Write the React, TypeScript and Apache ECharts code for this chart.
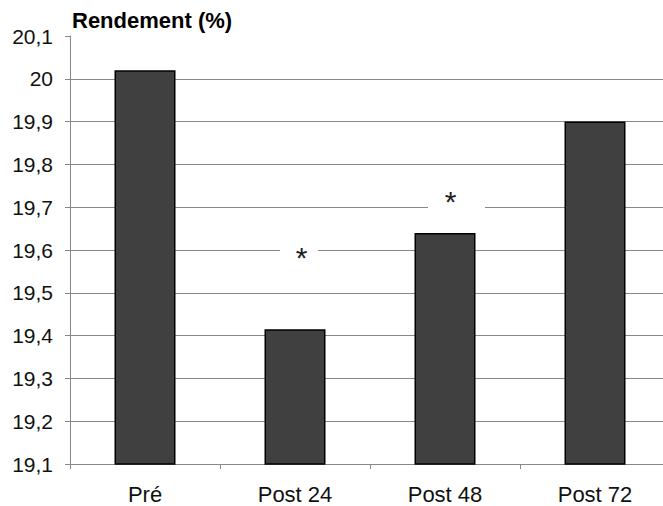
import React, { useEffect, useRef } from "react";
import * as echarts from "echarts";

const categories = ["Pré", "Post 24", "Post 48", "Post 72"];
const values = [20.02, 19.415, 19.64, 19.9];
const yTickLabels = ["19,1", "19,2", "19,3", "19,4", "19,5", "19,6", "19,7", "19,8", "19,9", "20", "20,1"];
const yMin = 19.1;
const yMax = 20.1;
const yStep = 0.1;
const title = "Rendement (%)";
const asterisks = [
  { category: "Post 24", value: 19.6 },
  { category: "Post 48", value: 19.7 },
];

export default function App() {
  const ref = useRef<HTMLDivElement>(null);
  useEffect(() => {
    if (!ref.current) return;
    const chart = echarts.init(ref.current, null, { renderer: "svg" });
    const font = "'Liberation Sans', Arial, sans-serif";
    chart.setOption({
      animation: false,
      backgroundColor: "#ffffff",
      title: {
        text: title,
        left: 72,
        top: 9,
        padding: 0,
        textStyle: { fontFamily: font, fontWeight: "bold", fontSize: 22, color: "#000" },
      },
      grid: { left: 70, right: 0, top: 36, bottom: 42, containLabel: false },
      xAxis: {
        type: "category",
        data: categories,
        axisLine: { show: true, lineStyle: { color: "#888", width: 1 } },
        axisTick: { show: true, inside: false, length: 5, lineStyle: { color: "#888" } },
        axisLabel: { fontFamily: font, fontSize: 22, color: "#111", margin: 19 },
        splitLine: { show: false },
      },
      yAxis: {
        type: "value",
        min: yMin,
        max: yMax,
        interval: yStep,
        axisLine: { show: true, lineStyle: { color: "#888", width: 1 } },
        axisTick: { show: true, length: 5, lineStyle: { color: "#888" } },
        axisLabel: {
          fontFamily: font,
          fontSize: 21,
          color: "#111",
          margin: 17,
          formatter: (v: number) => {
            const idx = Math.round((v - yMin) / yStep);
            return yTickLabels[idx] ?? "";
          },
        },
        splitLine: {
          show: true,
          showMaxLine: false,
          lineStyle: { color: "#888", width: 1 },
        },
      },
      series: [
        {
          type: "bar",
          data: values,
          barWidth: 61,
          itemStyle: { color: "#404040", borderColor: "#000", borderWidth: 1.5 },
          markPoint: {
            silent: true,
            data: [
              {
                coord: [asterisks[0].category, asterisks[0].value],
                symbol: "rect",
                symbolSize: [38, 12],
                symbolOffset: [4, 0],
                itemStyle: { color: "#fff" },
                label: {
                  show: true,
                  formatter: "*",
                  position: "inside",
                  offset: [2.5, 7],
                  fontFamily: font,
                  fontSize: 30,
                  color: "#222",
                },
              },
              {
                coord: [asterisks[1].category, asterisks[1].value],
                symbol: "rect",
                symbolSize: [57, 12],
                symbolOffset: [11.5, 0],
                itemStyle: { color: "#fff" },
                label: {
                  show: true,
                  formatter: "*",
                  position: "inside",
                  offset: [-6, -6],
                  fontFamily: font,
                  fontSize: 30,
                  color: "#222",
                },
              },
            ],
          },
        },
      ],
    });
    return () => chart.dispose();
  }, []);
  return (
    <div style={{ position: "absolute", left: 0, top: 0, width: 663, height: 506, overflow: "hidden" }}>
      <div ref={ref} style={{ width: 670, height: 506 }} />
    </div>
  );
}
